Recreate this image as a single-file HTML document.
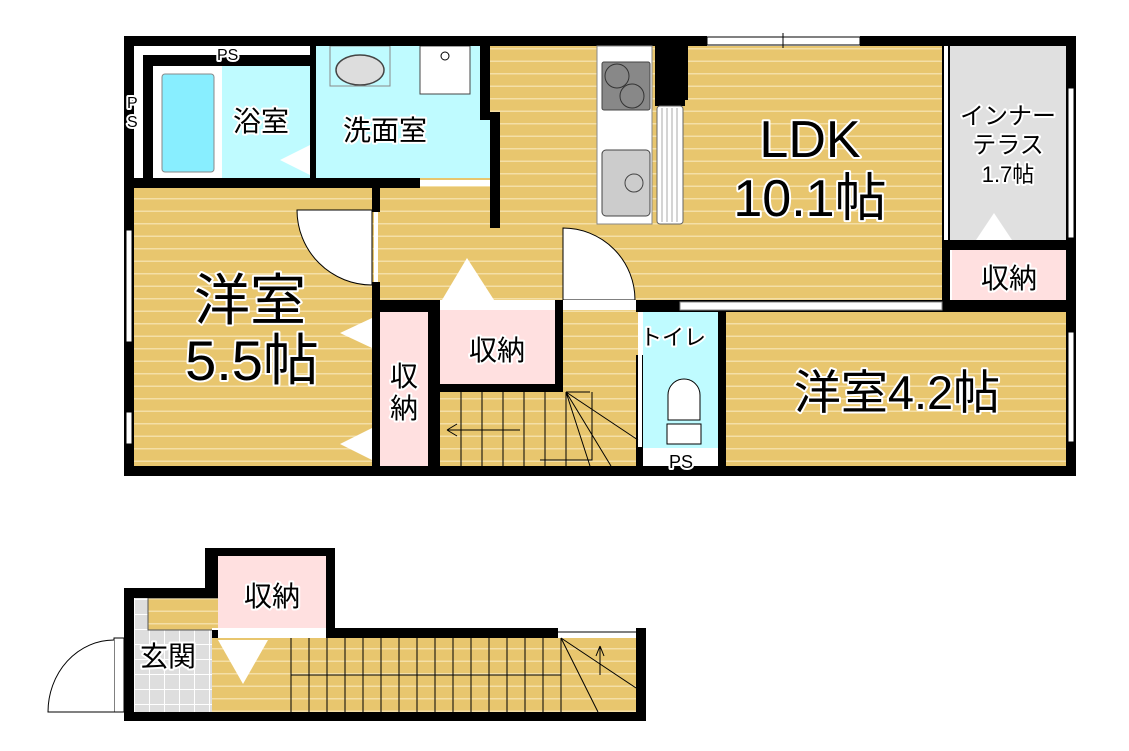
<!DOCTYPE html>
<html><head><meta charset="utf-8"><style>
html,body{margin:0;padding:0;background:#fff;}
svg{display:block}
text{font-family:"Liberation Sans","Noto Sans CJK JP",sans-serif;fill:#000;stroke:#fff;stroke-width:4px;paint-order:stroke;stroke-linejoin:round}
</style></head><body>
<svg width="1129" height="751" viewBox="0 0 1129 751" xmlns="http://www.w3.org/2000/svg">
<defs>
<pattern id="wood" width="20" height="12.5" patternUnits="userSpaceOnUse">
<rect width="20" height="12.5" fill="#E8C66E"/><rect y="10.5" width="20" height="1.5" fill="#F4DFA6"/>
</pattern>
<pattern id="tile" width="15" height="15" patternUnits="userSpaceOnUse">
<rect width="15" height="15" fill="#DEDEDE"/><path d="M0 14.5H15M14.5 0V15" stroke="#fff" stroke-width="1"/>
</pattern>
</defs>
<rect x="134" y="188" width="240" height="280" fill="url(#wood)"/>
<rect x="372" y="46" width="572" height="256" fill="url(#wood)"/>
<rect x="440" y="392" width="198" height="76" fill="url(#wood)"/>
<rect x="563" y="300" width="76" height="168" fill="url(#wood)"/>
<rect x="726" y="312" width="340" height="156" fill="url(#wood)"/>
<rect x="153" y="66" width="157" height="112" fill="#fff"/>
<rect x="222" y="66" width="88" height="112" fill="#BFFBFF"/>
<rect x="162" y="74" width="52" height="98" rx="3" fill="#88EEFF" stroke="#888" stroke-width="1"/>
<polygon points="316,46 482,46 482,120 490,120 490,178 316,178" fill="#BFFBFF"/>
<ellipse cx="360" cy="70" rx="24" ry="15" fill="#ddd" stroke="#444" stroke-width="1.5"/>
<rect x="330" y="46" width="60" height="40" fill="none" stroke="#888"/>
<rect x="420" y="46" width="50" height="48" fill="#fff" stroke="#444"/>
<circle cx="445" cy="56" r="4" fill="none" stroke="#000"/>
<polygon points="310,145 310,175 280,160" fill="#fff"/>
<rect x="134" y="46" width="176" height="10" fill="#fff"/>
<rect x="134" y="46" width="9" height="132" fill="#fff"/>
<rect x="950" y="46" width="116" height="194" fill="#E0E0E0"/>
<rect x="952" y="250" width="114" height="50" fill="#FFE0E0"/>
<polygon points="976,240 1012,240 994,213" fill="#fff"/>
<rect x="380" y="312" width="48" height="154" fill="#FFE0E0"/>
<rect x="440" y="310" width="115" height="74" fill="#FFE0E0"/>
<rect x="643" y="312" width="75" height="136" fill="#BFFBFF"/>
<g fill="#000">
<rect x="124" y="36" width="583" height="10"/>
<rect x="860" y="36" width="216" height="10"/>
<rect x="124" y="36" width="10" height="440"/>
<rect x="124" y="466" width="952" height="10"/>
<rect x="1066" y="36" width="10" height="440"/>
<rect x="143" y="55" width="170" height="11"/>
<rect x="143" y="55" width="10" height="130"/>
<rect x="310" y="46" width="6" height="132"/>
<rect x="124" y="178" width="296" height="10"/>
<rect x="480" y="46" width="10" height="74"/>
<rect x="480" y="112" width="20" height="8"/>
<rect x="490" y="112" width="10" height="116"/>
<rect x="372" y="188" width="8" height="24"/>
<rect x="372" y="282" width="8" height="184"/>
<rect x="372" y="300" width="68" height="12"/>
<rect x="428" y="300" width="12" height="166"/>
<rect x="555" y="300" width="8" height="92"/>
<rect x="440" y="384" width="123" height="8"/>
<rect x="636" y="300" width="90" height="12"/>
<rect x="636" y="355" width="7" height="121"/>
<rect x="718" y="305" width="8" height="171"/>
<rect x="718" y="300" width="350" height="12"/>
<rect x="942" y="46" width="8" height="266"/>
<rect x="942" y="240" width="124" height="10"/>
<rect x="655" y="36" width="33" height="64"/>
<rect x="655" y="36" width="30" height="70"/>
</g>
<rect x="420" y="180" width="70" height="6" fill="#fff"/>
<rect x="707" y="37" width="153" height="8" fill="#fff" stroke="#000" stroke-width="1"/>
<line x1="783" y1="33" x2="783" y2="48" stroke="#000"/>
<rect x="680" y="302" width="262" height="8" fill="#fff" stroke="#888" stroke-width="1"/>
<rect x="944" y="46" width="4" height="194" fill="#fff"/>
<rect x="1068" y="88" width="6" height="150" fill="#fff" stroke="#000" stroke-width="1"/>
<rect x="1068" y="332" width="6" height="110" fill="#fff" stroke="#000" stroke-width="1"/>
<rect x="126" y="230" width="6" height="112" fill="#fff" stroke="#000" stroke-width="1"/>
<rect x="126" y="412" width="6" height="32" fill="#fff" stroke="#000" stroke-width="1"/>
<rect x="374" y="212" width="4" height="70" fill="#fff"/>
<path d="M372 210 L297 210 A75 75 0 0 0 372 285 Z" fill="#fff" stroke="#000" stroke-width="1"/>
<path d="M563 300 L563 228 A72 72 0 0 1 635 300 Z" fill="#fff" stroke="#000" stroke-width="1"/>
<rect x="563" y="300" width="73" height="10" fill="#fff"/>
<rect x="440" y="300" width="115" height="10" fill="#fff"/>
<polygon points="442,300 494,300 467,258" fill="#fff"/>
<polygon points="372,318 372,348 340,333" fill="#fff"/>
<polygon points="372,428 372,460 340,444" fill="#fff"/>
<rect x="638" y="312" width="4" height="135" fill="#fff"/>
<rect x="643" y="452" width="75" height="12" fill="#fff"/>
<rect x="597" y="46" width="55" height="178" fill="#fff" stroke="#888"/>
<rect x="602" y="62" width="48" height="48" rx="2" fill="#888" stroke="#444"/>
<circle cx="617" cy="76" r="12" fill="none" stroke="#333"/>
<circle cx="632" cy="96" r="12" fill="none" stroke="#333"/>
<rect x="602" y="150" width="48" height="66" rx="4" fill="#ccc" stroke="#444"/>
<circle cx="634" cy="183" r="9" fill="none" stroke="#444"/>
<rect x="657" y="106" width="26" height="118" rx="3" fill="#fff" stroke="#666"/>
<path d="M662 108V222M667 108V222M672 108V222M677 108V222" stroke="#aaa" stroke-width="1"/>
<path d="M668 420 L668 395 A16 16 0 0 1 700 395 L700 420 Z" fill="#fff" stroke="#000"/>
<rect x="667" y="424" width="34" height="20" fill="#fff" stroke="#000"/>
<g stroke="#000" stroke-width="1" fill="none">
<path d="M461 392V466M482 392V466M503 392V466M524 392V466M545 392V466M566 392V466"/>
<path d="M566 392L638 440M566 392L611 466M566 392L590 466M566 392H590"/>
<path d="M592 392V460H540M447 430H520M447 430l10-6M447 430l10 6"/>
</g>
<rect x="212" y="638" width="424" height="74" fill="url(#wood)"/>
<rect x="134" y="598" width="78" height="114" fill="url(#tile)"/>
<rect x="148" y="598" width="74" height="32" fill="url(#wood)" stroke="#555" stroke-width="1"/>
<rect x="218" y="556" width="108" height="72" fill="#FFE0E0"/>
<rect x="212" y="628" width="114" height="10" fill="#fff"/>
<polygon points="218,640 268,640 243,684" fill="#fff"/>
<g fill="#000">
<rect x="124" y="588" width="10" height="132"/>
<rect x="124" y="588" width="90" height="10"/>
<rect x="205" y="548" width="13" height="50"/>
<rect x="205" y="548" width="130" height="8"/>
<rect x="326" y="548" width="9" height="90"/>
<rect x="326" y="628" width="232" height="10"/>
<rect x="636" y="628" width="10" height="92"/>
<rect x="124" y="712" width="522" height="9"/>
<rect x="212" y="630" width="6" height="8"/>
</g>
<path d="M558 632H636" stroke="#000"/>
<g stroke="#000" stroke-width="1" fill="none">
<path d="M291 638V712M309 638V712M327 638V712M345 638V712M363 638V712M381 638V712M399 638V712M417 638V712M435 638V712M453 638V712M471 638V712M489 638V712M507 638V712M525 638V712M543 638V712M561 638V712M291 675H561"/>
<path d="M561 638L636 688M561 638L598 712M600 675V646M600 646l-4 10M600 646l4 10"/>
</g>
<rect x="114" y="638" width="10" height="74" fill="#fff" stroke="#000" stroke-width="1"/>
<path d="M114 640 A66 72 0 0 0 48 712 L114 712" fill="#fff" stroke="#000" stroke-width="1"/>
<text x="217" y="60" font-size="16">PS</text>
<text x="127" y="108" font-size="16">P</text>
<text x="127" y="127" font-size="16">S</text>
<text x="233" y="131" font-size="28">浴室</text>
<text x="343" y="140" font-size="28">洗面室</text>
<text x="810" y="157" font-size="52" text-anchor="middle">LDK</text>
<text x="810" y="216" font-size="52" text-anchor="middle">10.1帖</text>
<text x="1008" y="124" font-size="24" text-anchor="middle">インナー</text>
<text x="1008" y="153" font-size="24" text-anchor="middle">テラス</text>
<text x="1008" y="182" font-size="22" text-anchor="middle">1.7帖</text>
<text x="1009" y="288" font-size="28" text-anchor="middle">収納</text>
<text x="250" y="320" font-size="56" text-anchor="middle">洋室</text>
<text x="252" y="380" font-size="56" text-anchor="middle">5.5帖</text>
<text x="404" y="386" font-size="28" text-anchor="middle">収</text>
<text x="404" y="418" font-size="28" text-anchor="middle">納</text>
<text x="497" y="360" font-size="28" text-anchor="middle">収納</text>
<text x="640" y="345" font-size="22">トイレ</text>
<text x="681" y="468" font-size="18" text-anchor="middle">PS</text>
<text x="897" y="409" font-size="47" text-anchor="middle">洋室4.2帖</text>
<text x="272" y="606" font-size="28" text-anchor="middle">収納</text>
<text x="168" y="666" font-size="28" text-anchor="middle">玄関</text>
</svg>
</body></html>
